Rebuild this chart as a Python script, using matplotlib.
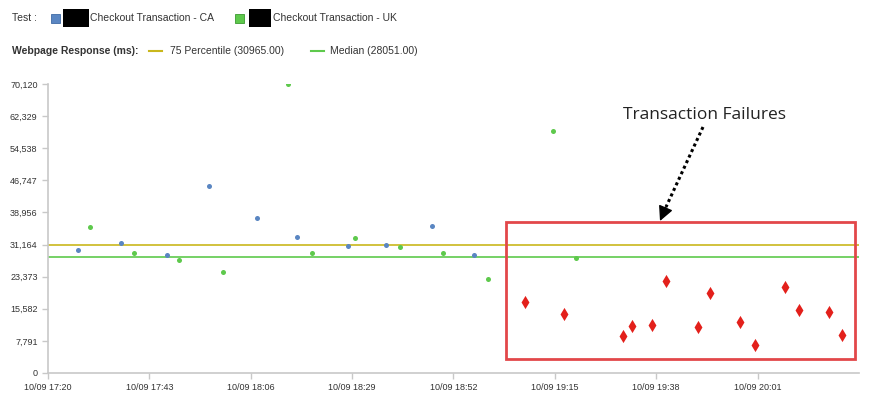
import matplotlib
matplotlib.use("Agg")
import matplotlib.pyplot as plt
import matplotlib.dates as mdates
from matplotlib.patches import Rectangle
import pandas as pd
import numpy as np

DAY = "2014-10-09 "

# CA test (blue dots)
ca_times = ["17:26:48", "17:36:36", "17:47:06", "17:56:36", "18:07:30",
            "18:16:30", "18:28:00", "18:36:42", "18:47:06", "18:56:42"]
ca_values = [29770, 31460, 28550, 45370, 37530, 33000, 30740, 31050, 35590, 28550]

# UK test (green dots)
uk_times = ["17:29:36", "17:39:30", "17:49:42", "17:59:48", "18:14:30", "18:19:48",
            "18:29:42", "18:39:48", "18:49:42", "18:59:54", "19:14:30", "19:19:48"]
uk_values = [35420, 29110, 27340, 24500, 70100, 29030, 32670, 30490, 29110,
             22730, 58710, 27830]

# failed transactions (red diamonds)
fail_times = ["19:08:18", "19:17:06", "19:30:30", "19:32:30", "19:37:00", "19:40:18",
              "19:47:30", "19:50:18", "19:57:06", "20:00:24", "20:07:12", "20:10:18",
              "20:17:18", "20:20:12"]
fail_values = [17220, 14310, 8900, 11480, 11650, 22250, 11090, 19330, 12370,
               6870, 20940, 15280, 14870, 9220]

p75 = 30965.00
median = 28051.00
y_max = 70120

def to_dt(ts):
    return pd.to_datetime([DAY + t for t in ts])

BLUE = "#5a86c2"
GREEN = "#5ec94c"
YELLOW = "#c9b71c"
RED = "#e3201b"
BOX_RED = "#e2474a"
TXT = "#333333"

fig = plt.figure(figsize=(8.78, 4.08), dpi=100)
ax = fig.add_axes([48 / 878, 35 / 408, (859 - 48) / 878, (373 - 84) / 408])

ax.axhline(p75, color=YELLOW, lw=1.2, zorder=1)
ax.axhline(median, color=GREEN, lw=1.2, zorder=1)

ax.scatter(to_dt(ca_times), ca_values, s=13, color=BLUE, zorder=3, linewidths=0)
ax.scatter(to_dt(uk_times), uk_values, s=13, color=GREEN, zorder=3, linewidths=0)
ax.scatter(to_dt(fail_times), fail_values, s=45, marker="d", color=RED, zorder=3,
           linewidths=0)

x0 = pd.Timestamp(DAY + "17:20")
x1 = pd.Timestamp(DAY + "20:24")
ax.set_xlim(x0, x1)
ax.set_ylim(0, y_max)

xt = pd.date_range(x0, periods=8, freq="23min")
ax.set_xticks(xt)
ax.xaxis.set_major_formatter(mdates.DateFormatter("%m/%d %H:%M"))
yt = np.linspace(0, y_max, 10)
ax.set_yticks(yt)
ax.set_yticklabels(["{:,}".format(int(round(v))) for v in yt])

for s in ["top", "right"]:
    ax.spines[s].set_visible(False)
for s in ["left", "bottom"]:
    ax.spines[s].set_color("#c8c8c8")
    ax.spines[s].set_linewidth(1.2)
ax.tick_params(axis="both", colors="#c8c8c8", labelcolor=TXT, labelsize=6.5,
               length=4, width=1)
ax.tick_params(axis="x", pad=3)
for lab in ax.get_xticklabels() + ax.get_yticklabels():
    lab.set_family("Liberation Sans")

# failure box and callout
bx0 = mdates.date2num(pd.Timestamp(DAY + "19:03:48"))
bx1 = mdates.date2num(pd.Timestamp(DAY + "20:23:12"))
box = Rectangle((bx0, 3320), bx1 - bx0, 36700 - 3320, fill=False,
                edgecolor=BOX_RED, lw=2, zorder=4, clip_on=False)
ax.add_patch(box)

fig.text(705 / 878, 1 - 115 / 408, "Transaction Failures", family="Open Sans",
         fontsize=12.5, color="#222222", ha="center", va="center")
# dotted shaft, then a solid head
fig.lines.append(plt.Line2D([703 / 878, 666 / 878], [1 - 127 / 408, 1 - 207 / 408],
                            transform=fig.transFigure, color="black", lw=2.2,
                            linestyle=(0, (1, 1))))
ax.annotate("", xy=(660 / 878, 1 - 221 / 408), xycoords="figure fraction",
            xytext=(666 / 878, 1 - 207 / 408), textcoords="figure fraction",
            arrowprops=dict(arrowstyle="-|>,head_length=0.9,head_width=0.45",
                            lw=1.0, color="black", shrinkA=0, shrinkB=0))

# header legend
hf = dict(family="Liberation Sans", fontsize=7.5, color=TXT, va="center")
fig.text(12 / 878, 1 - 18 / 408, "Test :", **hf)
fig.patches.append(Rectangle((51 / 878, 1 - 23 / 408), 9 / 878, 9 / 408,
                             transform=fig.transFigure, facecolor=BLUE,
                             edgecolor="#3f6aa5", lw=0.6))
fig.patches.append(Rectangle((63 / 878, 1 - 27 / 408), 26 / 878, 18 / 408,
                             transform=fig.transFigure, facecolor="black"))
fig.text(90 / 878, 1 - 18 / 408, "Checkout Transaction - CA", **hf)
fig.patches.append(Rectangle((235 / 878, 1 - 23 / 408), 9 / 878, 9 / 408,
                             transform=fig.transFigure, facecolor=GREEN,
                             edgecolor="#3c9a30", lw=0.6))
fig.patches.append(Rectangle((249 / 878, 1 - 27 / 408), 22 / 878, 18 / 408,
                             transform=fig.transFigure, facecolor="black"))
fig.text(273 / 878, 1 - 18 / 408, "Checkout Transaction - UK", **hf)

fig.text(12 / 878, 1 - 51 / 408, "Webpage Response (ms):", fontweight="bold", **hf)
fig.lines.append(plt.Line2D([149 / 878, 162 / 878], [1 - 51 / 408] * 2,
                            transform=fig.transFigure, color=YELLOW, lw=1.5))
fig.text(170 / 878, 1 - 51 / 408, "75 Percentile ({:.2f})".format(p75), **hf)
fig.lines.append(plt.Line2D([311 / 878, 324 / 878], [1 - 51 / 408] * 2,
                            transform=fig.transFigure, color=GREEN, lw=1.5))
fig.text(330 / 878, 1 - 51 / 408, "Median ({:.2f})".format(median), **hf)

fig.savefig("out.png", dpi=100)
